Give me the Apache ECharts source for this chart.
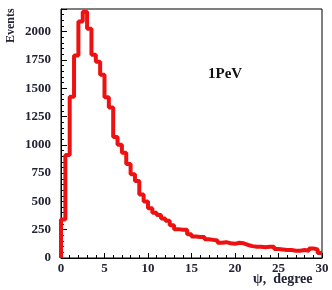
<!DOCTYPE html>
<html><head><meta charset="utf-8">
<script src="https://cdn.jsdelivr.net/npm/echarts@6/dist/echarts.min.js"></script>
<style>html,body{margin:0;padding:0;background:#fff}#c{width:332px;height:290px}</style>
</head><body><div id="c"></div>
<script>
const binWidth = 0.5;
const counts = [340, 910, 1425, 1790, 2090, 2175, 2025, 1795, 1735, 1620,
  1420, 1330, 1070, 1000, 930, 830, 740, 680, 560, 500,
  440, 400, 380, 350, 330, 290, 255, 250, 250, 210,
  190, 185, 185, 165, 160, 155, 135, 140, 130, 125,
  135, 130, 115, 105, 100, 100, 95, 100, 100, 80,
  75, 70, 70, 65, 65, 70, 65, 85, 75, 45];
const xTicks = [0, 5, 10, 15, 20, 25, 30];
const yTicks = [0, 250, 500, 750, 1000, 1250, 1500, 1750, 2000];

const pts = [[0, 0]];
counts.forEach((v, i) => pts.push([i * binWidth, v]));
pts.push([counts.length * binWidth, counts[counts.length - 1]]);

const font = '"Liberation Serif", "DejaVu Serif", serif';
const txtColor = '#232336';
const chart = echarts.init(document.getElementById('c'));
chart.setOption({
  animation: false,
  grid: {left: 61, right: 10, top: 9, bottom: 32, show: true, borderColor: '#000', borderWidth: 1, backgroundColor: 'transparent'},
  xAxis: {
    type: 'value', min: xTicks[0], max: xTicks[xTicks.length - 1], interval: 5,
    axisLine: {lineStyle: {color: '#000', width: 1}},
    axisTick: {inside: true, length: 5, lineStyle: {color: '#000'}},
    minorTick: {show: true, splitNumber: 5, length: 3, lineStyle: {color: '#000'}},
    splitLine: {show: false},
    axisLabel: {color: txtColor, fontFamily: font, fontWeight: 'bold', fontSize: 13, margin: 4}
  },
  yAxis: {
    type: 'value', min: yTicks[0], max: 2200, interval: 250,
    axisLine: {show: true, lineStyle: {color: '#000', width: 1}},
    axisTick: {show: true, inside: true, length: 6, lineStyle: {color: '#000'}},
    minorTick: {show: true, splitNumber: 5, length: 3, lineStyle: {color: '#000'}},
    splitLine: {show: false},
    axisLabel: {color: txtColor, fontFamily: font, fontWeight: 'bold', fontSize: 13, margin: 10, showMaxLabel: false,
      formatter: v => yTicks.includes(v) ? String(v) : ''}
  },
  series: [{
    type: 'line', step: 'end', data: pts, showSymbol: false,
    lineStyle: {color: '#ee1111', width: 4}, z: 1, clip: true
  }],
  graphic: [
    {type: 'text', rotation: Math.PI / 2, position: [5, 43],
      style: {text: 'Events', fill: txtColor, font: 'bold 12px ' + font}},
    {type: 'text', position: [253, 272], style: {text: 'ψ,  degree', fill: txtColor, font: 'bold 14px ' + font}},
    {type: 'text', position: [208, 67], style: {text: '1PeV', fill: '#111', font: 'bold 15px ' + font}}
  ]
});
</script></body></html>
